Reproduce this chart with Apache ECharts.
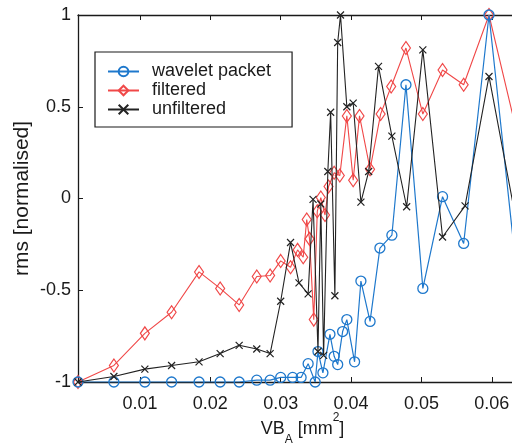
<!DOCTYPE html>
<html>
<head>
<meta charset="utf-8">
<script src="https://cdn.jsdelivr.net/npm/echarts@6/dist/echarts.min.js"></script>
<style>
  html, body { margin: 0; padding: 0; background: #fff; }
  #chart { width: 512px; height: 446px; }
</style>
</head>
<body>
<div id="chart"></div>
<script>
// Normalised RMS versus flank wear VB_A for three signal treatments
const seriesNames = ['wavelet packet', 'filtered', 'unfiltered'];

const waveletX = [0.0012, 0.0063, 0.0107, 0.0145, 0.0184, 0.0214, 0.0241, 0.0266, 0.0285, 0.0300,
  0.0317, 0.0329, 0.0339, 0.0349, 0.0353, 0.0360, 0.0370, 0.0376, 0.0381, 0.0388,
  0.0394, 0.0405, 0.0414, 0.0427, 0.0441, 0.0458, 0.0478, 0.0502, 0.0530, 0.0560,
  0.0596, 0.0640];
const waveletY = [-1, -1, -1, -1, -1, -1, -1, -0.99, -0.99, -0.975,
  -0.975, -0.975, -0.90, -1.0, -0.834, -0.95, -0.74, -0.86, -0.905, -0.725,
  -0.66, -0.89, -0.45, -0.67, -0.27, -0.20, 0.62, -0.49, 0.01, -0.245,
  1.0, -0.57];

const filteredX = [0.0012, 0.0063, 0.0107, 0.0145, 0.0184, 0.0214, 0.0241, 0.0266, 0.0285, 0.0300,
  0.0314, 0.0324, 0.0332, 0.0337, 0.0341, 0.0347, 0.0352, 0.0357, 0.0363, 0.0368,
  0.0376, 0.0384, 0.0394, 0.0403, 0.0412, 0.0427, 0.0442, 0.0457, 0.0478, 0.0502,
  0.0530, 0.0560, 0.0596, 0.0640];
const filteredY = [-1.0, -0.91, -0.735, -0.62, -0.40, -0.49, -0.58, -0.425, -0.42, -0.34,
  -0.375, -0.28, -0.32, -0.115, -0.22, -0.66, -0.07, 0.005, -0.09, 0.065,
  0.14, 0.125, 0.45, 0.10, 0.45, 0.16, 0.46, 0.61, 0.82, 0.46,
  0.70, 0.62, 1.0, 0.29];

const unfilteredX = [0.0012, 0.0063, 0.0107, 0.0145, 0.0184, 0.0214, 0.0241, 0.0266, 0.0285, 0.0300,
  0.0314, 0.0326, 0.0339, 0.0346, 0.0353, 0.0357, 0.0361, 0.0367, 0.0371, 0.0377,
  0.0381, 0.0385, 0.0394, 0.0403, 0.0414, 0.0425, 0.0439, 0.0458, 0.0479, 0.0502,
  0.0530, 0.0562, 0.0596, 0.0640];
const unfilteredY = [-1.0, -0.97, -0.93, -0.91, -0.89, -0.845, -0.80, -0.82, -0.845, -0.56,
  -0.24, -0.46, -0.52, -0.005, -0.834, -0.03, -0.855, 0.147, 0.47, -0.53,
  0.85, 1.0, 0.50, 0.52, -0.02, 0.147, 0.72, 0.34, -0.045, 0.81,
  -0.21, -0.04, 0.665, -0.23];

const xTicks = [0.01, 0.02, 0.03, 0.04, 0.05, 0.06];
const yTicks = [-1, -0.5, 0, 0.5, 1];

const colors = ['#1e78cc', '#f04848', '#222222'];
const FONT = 'Liberation Sans, Arial, sans-serif';
const AXIS_COLOR = '#1a1a1a';

function pairs(xs, ys) { return xs.map((x, i) => [x, ys[i]]); }

const chart = echarts.init(document.getElementById('chart'), null, { renderer: 'canvas' });

const xBase = {
  type: 'value',
  min: 0.0012,
  max: 0.065,
  axisLine: { onZero: false, lineStyle: { color: AXIS_COLOR, width: 1.3 } },
  splitLine: { show: false }
};

chart.setOption({
  animation: false,
  backgroundColor: '#ffffff',
  textStyle: { fontFamily: FONT },
  // the axes box runs past the right edge of the page
  grid: { left: 78, top: 15, width: 449, height: 367, containLabel: false, outerBoundsMode: 'none' },
  legend: {
    left: 95,
    top: 52,
    orient: 'vertical',
    itemWidth: 31,
    itemHeight: 12,
    itemGap: 0,
    padding: [10, 21, 8, 12],
    backgroundColor: '#ffffff',
    borderColor: '#1a1a1a',
    borderWidth: 1.2,
    borderRadius: 0,
    data: seriesNames,
    textStyle: { fontFamily: FONT, fontSize: 18, color: '#1a1a1a', lineHeight: 19, padding: [0, 0, 0, 8] }
  },
  xAxis: [
    Object.assign({}, xBase, {
      position: 'bottom',
      name: '{a|VB}{s|A}{a| [mm}{p|2}{a|]}',
      nameLocation: 'middle',
      nameGap: 36,
      nameMoveOverlap: false,
      nameTextStyle: {
        rich: {
          a: { fontFamily: FONT, fontSize: 18, color: '#1a1a1a', lineHeight: 22 },
          s: { fontFamily: FONT, fontSize: 12, color: '#1a1a1a', verticalAlign: 'bottom', padding: [0, 0, -6, 0], lineHeight: 22 },
          p: { fontFamily: FONT, fontSize: 12, color: '#1a1a1a', verticalAlign: 'top', padding: [-6, 0, 0, 0], lineHeight: 22 }
        }
      },
      axisTick: { inside: true, length: 5, customValues: xTicks, lineStyle: { color: AXIS_COLOR } },
      axisLabel: {
        customValues: xTicks,
        margin: 13,
        fontFamily: FONT, fontSize: 18, color: '#1a1a1a',
        formatter: v => v.toFixed(2)
      }
    }),
    Object.assign({}, xBase, {
      position: 'top',
      axisTick: { inside: true, length: 5, customValues: xTicks, lineStyle: { color: AXIS_COLOR } },
      axisLabel: { show: false }
    })
  ],
  yAxis: {
    type: 'value',
    min: -1,
    max: 1,
    interval: 0.5,
    name: 'rms [normalised]',
    nameLocation: 'middle',
    nameGap: 45,
    nameMoveOverlap: false,
    nameTextStyle: { fontFamily: FONT, fontSize: 21, color: '#1a1a1a' },
    axisLine: { show: true, onZero: false, lineStyle: { color: AXIS_COLOR, width: 1.3 } },
    axisTick: { show: true, inside: true, length: 5, lineStyle: { color: AXIS_COLOR } },
    axisLabel: {
      margin: 7, fontFamily: FONT, fontSize: 18, color: '#1a1a1a',
      customValues: yTicks,
      formatter: v => String(v)
    },
    splitLine: { show: false }
  },
  series: [
    {
      name: seriesNames[0],
      type: 'line',
      data: pairs(waveletX, waveletY),
      color: colors[0],
      symbol: 'circle',
      symbolSize: 10,
      showAllSymbol: true,
      lineStyle: { color: colors[0], width: 1.2 },
      itemStyle: { color: 'rgba(255,255,255,0)', borderColor: colors[0], borderWidth: 1.3 },
      z: 3
    },
    {
      name: seriesNames[1],
      type: 'line',
      data: pairs(filteredX, filteredY),
      color: colors[1],
      symbol: 'diamond',
      symbolSize: [9, 13],
      showAllSymbol: true,
      lineStyle: { color: colors[1], width: 1.1 },
      itemStyle: { color: 'rgba(255,255,255,0)', borderColor: colors[1], borderWidth: 1.2 },
      z: 2
    },
    {
      name: seriesNames[2],
      type: 'line',
      data: pairs(unfilteredX, unfilteredY),
      color: colors[2],
      symbol: 'path://M0,0L10,10M10,0L0,10',
      symbolSize: 7,
      showAllSymbol: true,
      lineStyle: { color: colors[2], width: 1.1 },
      itemStyle: { color: 'rgba(255,255,255,0)', borderColor: colors[2], borderWidth: 1.2 },
      z: 4
    }
  ]
});
</script>
</body>
</html>
